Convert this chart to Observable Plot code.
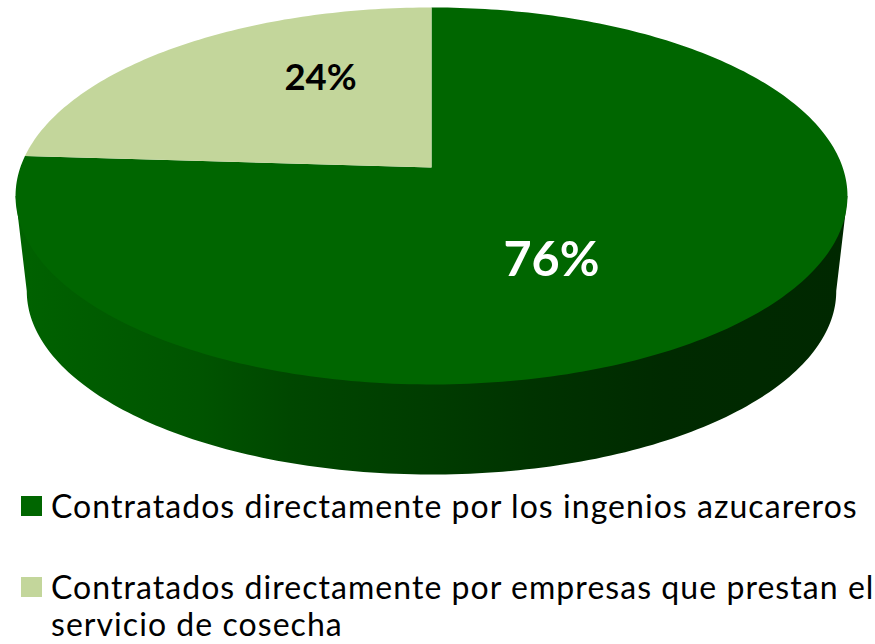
<!DOCTYPE html>
<html><head><meta charset="utf-8">
<script src="https://cdn.jsdelivr.net/npm/d3@7"></script>
<script src="https://cdn.jsdelivr.net/npm/@observablehq/plot@0.6"></script>
<style>
html,body{margin:0;padding:0;background:#fff;overflow:hidden;width:875px;height:644px}
#chart svg{display:block}
#legend{font-family:Lato,sans-serif;font-size:32px;letter-spacing:1.05px;color:#000;margin-top:5px}
.item{position:relative;padding-left:51px;margin-bottom:40px;white-space:nowrap}
.line{height:41px;line-height:41px}
.line + .line{height:30px;line-height:30px;margin-top:2px}
.sw{position:absolute;left:21px;top:11px;width:21px;height:20px}
</style></head><body>
<div id="chart"></div><div id="legend"></div>
<script>
const categories = [
  ["Contratados directamente por los ingenios azucareros"],
  ["Contratados directamente por empresas que prestan el", "servicio de cosecha"]
];
const shares = [76, 24];
const labels = ["76%", "24%"];
const sliceColors = ["#006600", "#c3d69b"];
const labelColors = ["#ffffff", "#000000"];

// tilted-disc view
const k = 0.151, rimScale = 0.973, rimDrop = 0.5206;
const project = (deg, r = 1, s = 1, d = 0) => {
  const a = deg * Math.PI / 180, u = -r * Math.sin(a), v = r * Math.cos(a), w = 1 + k * v;
  return {x: s * u / w, y: s * v / w - d};
};
// slices run counter-clockwise from 12 o'clock, the smaller one first
const a24 = shares[1] / d3.sum(shares) * 360;
const arc = (from, to) => d3.range(from, to, 1).concat(to).map(t => project(t));
const slicePts = [
  [...arc(a24, 360), {x: 0, y: 0}],
  [...arc(0, a24), {x: 0, y: 0}]
];
// side wall: lower rim, closed by a chord hidden under the disc
const aL = 90 + Math.asin(k) * 180 / Math.PI, aR = 360 - aL;
const front = d3.range(aL, aR, 1).concat(aR);
const wall = [project(aL), project(aR), ...front.slice().reverse().map(t => project(t, 1, rimScale, rimDrop))];
const stops = [[0,"#006200"],[0.06,"#005e00"],[0.22,"#005400"],[0.33,"#004700"],[0.5,"#003c00"],[0.62,"#003300"],[0.78,"#002a00"],[1,"#002800"]];

const defs = () => {
  const ns = "http://www.w3.org/2000/svg";
  const d = document.createElementNS(ns, "defs");
  const g = document.createElementNS(ns, "linearGradient");
  g.setAttribute("id", "wallGrad");
  g.setAttribute("gradientUnits", "userSpaceOnUse");
  g.setAttribute("x1", 15); g.setAttribute("x2", 847);
  g.setAttribute("y1", 0); g.setAttribute("y2", 0);
  for (const [o, c] of stops) {
    const s = document.createElementNS(ns, "stop");
    s.setAttribute("offset", o); s.setAttribute("stop-color", c);
    g.appendChild(s);
  }
  d.appendChild(g);
  return d;
};
const labelPts = [
  {...project(a24 + (360 - a24) / 2, 0.5), text: labels[0], fill: labelColors[0]},
  {...project(a24 / 2, 0.7), text: labels[1], fill: labelColors[1]}
];

const plot = Plot.plot({
  width: 875, height: 480,
  margin: 0,
  x: {domain: [-1, 1], range: [431 - 411.2, 431 + 411.2], axis: null},
  y: {domain: [-1, 1], range: [167 + 184.2, 167 - 184.2], axis: null},
  color: {type: "identity"},
  marks: [
    defs,
    Plot.line(wall, {x: "x", y: "y", fill: "url(#wallGrad)", stroke: "none", curve: "linear-closed"}),
    Plot.line(slicePts[0], {x: "x", y: "y", fill: sliceColors[0], stroke: "none", curve: "linear-closed"}),
    Plot.line(slicePts[1], {x: "x", y: "y", fill: sliceColors[1], stroke: "none", curve: "linear-closed"}),
    Plot.text([labelPts[0]], {x: "x", y: "y", text: "text", fill: "fill", dx: -29, dy: 22, fontSize: 48.5, fontWeight: 700, fontFamily: "Lato, sans-serif"}),
    Plot.text([labelPts[1]], {x: "x", y: "y", text: "text", fill: "fill", dx: 72, dy: -2, fontSize: 36.5, fontWeight: 700, fontFamily: "Lato, sans-serif"})
  ]
});
document.getElementById("chart").appendChild(plot);

const legend = document.getElementById("legend");
categories.forEach((lines, i) => {
  const it = document.createElement("div"); it.className = "item";
  const sw = document.createElement("span"); sw.className = "sw"; sw.style.background = sliceColors[i];
  it.appendChild(sw);
  for (const l of lines) {
    const d = document.createElement("div"); d.className = "line"; d.textContent = l;
    it.appendChild(d);
  }
  legend.appendChild(it);
});
</script></body></html>
